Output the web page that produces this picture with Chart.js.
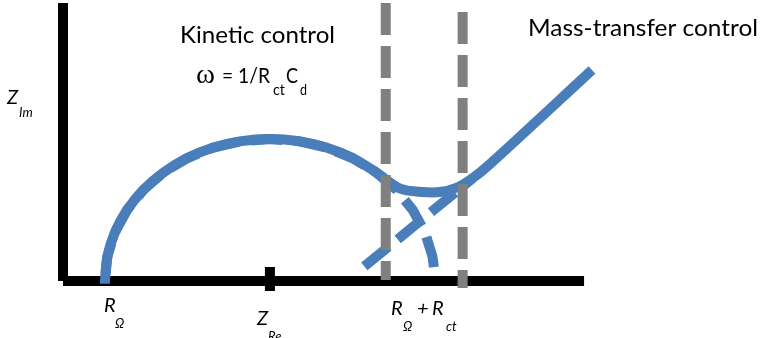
<!DOCTYPE html>
<html><head><meta charset="utf-8">
<script src="https://cdn.jsdelivr.net/npm/chart.js@4/dist/chart.umd.min.js"></script>
<style>html,body{margin:0;padding:0;background:#fff;overflow:hidden}canvas{display:block}</style>
</head><body>
<canvas id="c" width="760" height="338"></canvas>
<script>
// ---- Data (schematic Nyquist plot, arbitrary units: Z_Re, Z_Im) ----
// Measured solid impedance curve (semicircle + Warburg line)
const solidRe = [1.27, 1.27, 1.346, 1.572, 1.94, 2.44, 3.056, 3.77, 4.56, 5.402, 6.27, 7.138, 7.98, 8.77, 9.484, 10.21, 10.91, 11.42, 11.94, 12.42, 12.94, 16.03];
const solidIm = [-0.1, 0, 0.868, 1.71, 2.5, 3.214, 3.83, 4.33, 4.70, 4.924, 5.0, 4.924, 4.70, 4.33, 3.83, 3.257, 3.134, 3.134, 3.292, 3.627, 4.12, 7.43];
// Ideal kinetic semicircle (dashed), read from right end to left end
const arcRe = [11.24, 11.194, 10.968, 10.60, 10.10, 9.484, 8.77, 7.98, 7.138, 6.27, 5.402, 4.56, 3.77, 3.056, 2.44, 1.94, 1.572, 1.346, 1.27];
const arcIm = [0.49, 0.868, 1.71, 2.5, 3.214, 3.83, 4.33, 4.70, 4.924, 5.0, 4.924, 4.70, 4.33, 3.83, 3.214, 2.5, 1.71, 0.868, 0];
// Extrapolated Warburg line (dashed)
const warburgRe = [8.848, 12.424];
const warburgIm = [0.246, 3.627];
// Regime boundaries (vertical dashed lines)
const kineticBoundaryRe = [9.78, 9.78];
const kineticBoundaryIm = [9.79, 0.035];
const massBoundaryRe = [12.11, 12.11];
const massBoundaryIm = [9.47, -0.25];
// Axes and tick
const yAxisRe = [0, 0];
const yAxisIm = [9.79, 0];
const xAxisRe = [0, 15.79];
const xAxisIm = [0, 0];
const tickRe = [6.27, 6.27];
const tickIm = [0.49, -0.35];
// Text
const titleKinetic = 'Kinetic control';
const titleMass = 'Mass-transfer control';
const axisImMain = 'Z', axisImSub = 'Im';
const axisReMain = 'Z', axisReSub = 'Re';

const zip = (a, b) => a.map((v, i) => ({x: v, y: b[i]}));
const BLUE = '#4A7EBB', GRAY = '#808080', BLACK = '#000000';

function ds(re, im, color, dash, order, extra) {
  return Object.assign({
    data: zip(re, im), showLine: true, borderColor: color, backgroundColor: color,
    borderWidth: 10, borderDash: dash, borderCapStyle: 'butt', borderJoinStyle: 'miter',
    pointRadius: 0, pointHoverRadius: 0, fill: false, tension: 0, clip: false, order: order
  }, extra || {});
}

function drawFit(ctx, text, x, y, font, width) {
  ctx.save();
  ctx.font = font;
  const w = ctx.measureText(text).width;
  ctx.translate(x, y);
  if (width) ctx.scale(width / w, 1);
  ctx.fillText(text, 0, 0);
  ctx.restore();
}

const textPlugin = {
  id: 'texts',
  afterDraw(chart) {
    const ctx = chart.ctx;
    ctx.save();
    ctx.fillStyle = '#000';
    ctx.textBaseline = 'alphabetic';
    ctx.textAlign = 'left';
    const F = 'Lato, "Open Sans", sans-serif';
    drawFit(ctx, titleKinetic, 180, 43, '24px ' + F, 155);
    drawFit(ctx, titleMass, 528, 36, '24px ' + F, 230);
    // formula
    drawFit(ctx, '\u03C9', 196, 83, '27px "Liberation Serif", serif', 19);
    drawFit(ctx, '= 1/R', 222, 83, '22px ' + F, 48);
    drawFit(ctx, 'ct', 273, 95, '16px ' + F, 12);
    drawFit(ctx, 'C', 286, 83, '22px ' + F, 12);
    drawFit(ctx, 'd', 300, 95, '16px ' + F, 7);
    // axis labels
    const I = 'italic 20px ' + F, IS = 'italic 13px ' + F;
    drawFit(ctx, axisImMain, 7, 104, I);
    drawFit(ctx, axisImSub, 19, 117, IS);
    drawFit(ctx, 'R', 104, 312, I);
    drawFit(ctx, '\u03A9', 115, 328, IS);
    drawFit(ctx, axisReMain, 257, 325, I);
    drawFit(ctx, axisReSub, 268, 341, IS);
    drawFit(ctx, 'R', 391, 315, I);
    drawFit(ctx, '\u03A9', 403, 331, IS);
    drawFit(ctx, '+', 417, 315, I);
    drawFit(ctx, 'R', 432, 315, I);
    drawFit(ctx, 'ct', 446, 331, IS);
    ctx.restore();
  }
};

new Chart(document.getElementById('c'), {
  type: 'scatter',
  data: {
    datasets: [
      ds(kineticBoundaryRe, kineticBoundaryIm, GRAY, [32, 11], 0),
      ds(massBoundaryRe, massBoundaryIm, GRAY, [32, 11], 0),
      ds(solidRe, solidIm, BLUE, [], 1, {tension: 0.3}),
      ds(arcRe, arcIm, BLUE, [31, 12], 2),
      ds(warburgRe, warburgIm, BLUE, [31, 12], 2, {borderDashOffset: 31}),
      ds(yAxisRe, yAxisIm, BLACK, [], 5),
      ds(xAxisRe, xAxisIm, BLACK, [], 5),
      ds(tickRe, tickIm, BLACK, [], 5)
    ]
  },
  options: {
    responsive: false, animation: false, devicePixelRatio: 1, events: [],
    layout: {padding: 0},
    plugins: {legend: {display: false}, tooltip: {enabled: false}},
    scales: {
      x: {type: 'linear', min: -1.909, max: 21.121, display: false},
      y: {type: 'linear', min: -2.007, max: 9.894, display: false}
    }
  },
  plugins: [textPlugin]
});
</script>
</body></html>
